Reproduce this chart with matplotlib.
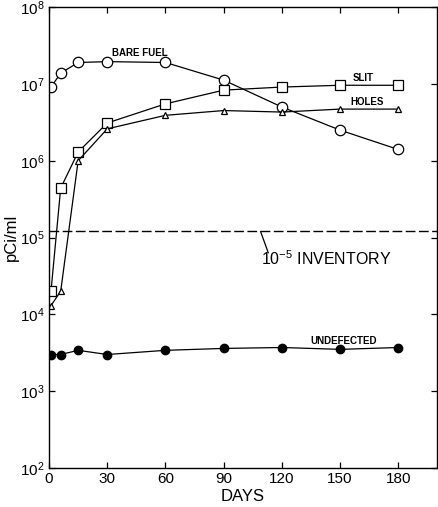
import numpy as np
import matplotlib
matplotlib.use("Agg")
import matplotlib.pyplot as plt

# sampling days and activity (pCi/ml) per specimen type
days = [1, 6, 15, 30, 60, 90, 120, 150, 180]
bare_fuel = [9.1e6, 1.38e7, 1.9e7, 1.95e7, 1.9e7, 1.12e7, 5.0e6, 2.5e6, 1.4e6]
slit = [2.0e4, 4.4e5, 1.3e6, 3.1e6, 5.5e6, 8.3e6, 9.1e6, 9.6e6, 9.6e6]
holes = [1.3e4, 2.0e4, 1.0e6, 2.6e6, 3.9e6, 4.5e6, 4.3e6, 4.7e6, 4.7e6]
undefected = [3.0e3, 3.0e3, 3.4e3, 3.0e3, 3.4e3, 3.6e3, 3.7e3, 3.5e3, 3.7e3]
inventory_level = 1.2e5

x_ticks = [0, 30, 60, 90, 120, 150, 180]
y_ticks = [1e2, 1e3, 1e4, 1e5, 1e6, 1e7, 1e8]

plt.rcParams['font.family'] = ['Liberation Sans', 'DejaVu Sans']
plt.rcParams['mathtext.fontset'] = 'custom'
plt.rcParams['mathtext.rm'] = 'Liberation Sans'
plt.rcParams['mathtext.default'] = 'regular'

fig = plt.figure(figsize=(4.38, 5.07), dpi=100)
ax = fig.add_axes([0.112, 0.077, 0.886, 0.909])

lw = 0.9
ax.plot(days, bare_fuel, '-o', color='black', lw=lw, ms=7.5,
        mfc='white', mec='black', mew=0.9)
ax.plot(days, slit, '-s', color='black', lw=lw, ms=7,
        mfc='white', mec='black', mew=0.9)
ax.plot(days, holes, '-^', color='black', lw=lw, ms=5,
        mfc='white', mec='black', mew=0.9)
ax.plot(days, undefected, '-o', color='black', lw=lw, ms=6,
        mfc='black', mec='black')
ax.axhline(inventory_level, color='black', lw=1.0, dashes=(7, 2.5))

ax.set_yscale('log')
ax.set_xlim(0, 200)
ax.set_ylim(1e2, 1e8)
ax.set_xticks(x_ticks)
ax.set_xticklabels([str(d) for d in x_ticks])
ax.set_yticks(y_ticks)
ax.set_yticklabels([r'$10^{%d}$' % int(np.log10(v)) for v in y_ticks])
ax.minorticks_off()
ax.tick_params(direction='in', length=4, width=0.9, top=True, right=True,
               labelsize=11, pad=3)
for s in ax.spines.values():
    s.set_linewidth(1.0)

ax.set_xlabel('DAYS', fontsize=12, labelpad=2)
ax.set_ylabel('pCi/ml', fontsize=12, labelpad=1)

lab = dict(fontsize=7, fontweight='bold', ha='center', va='center')
ax.text(47, 10**7.40, 'BARE FUEL', **lab)
ax.text(162, 10**7.08, 'SLIT', **lab)
ax.text(164, 10**6.76, 'HOLES', **lab)
ax.text(152, 10**3.65, 'UNDEFECTED', **lab)

# inventory label with a short leader to the dashed line
ax.text(143, 10**4.72, r'$10^{-5}$ INVENTORY', fontsize=11.5,
        ha='center', va='center')
ax.annotate('', xy=(109, inventory_level), xytext=(113, 10**4.80),
            arrowprops=dict(arrowstyle='-', color='black', lw=0.9,
                            shrinkA=0, shrinkB=0))

fig.savefig('out.png', dpi=100)
